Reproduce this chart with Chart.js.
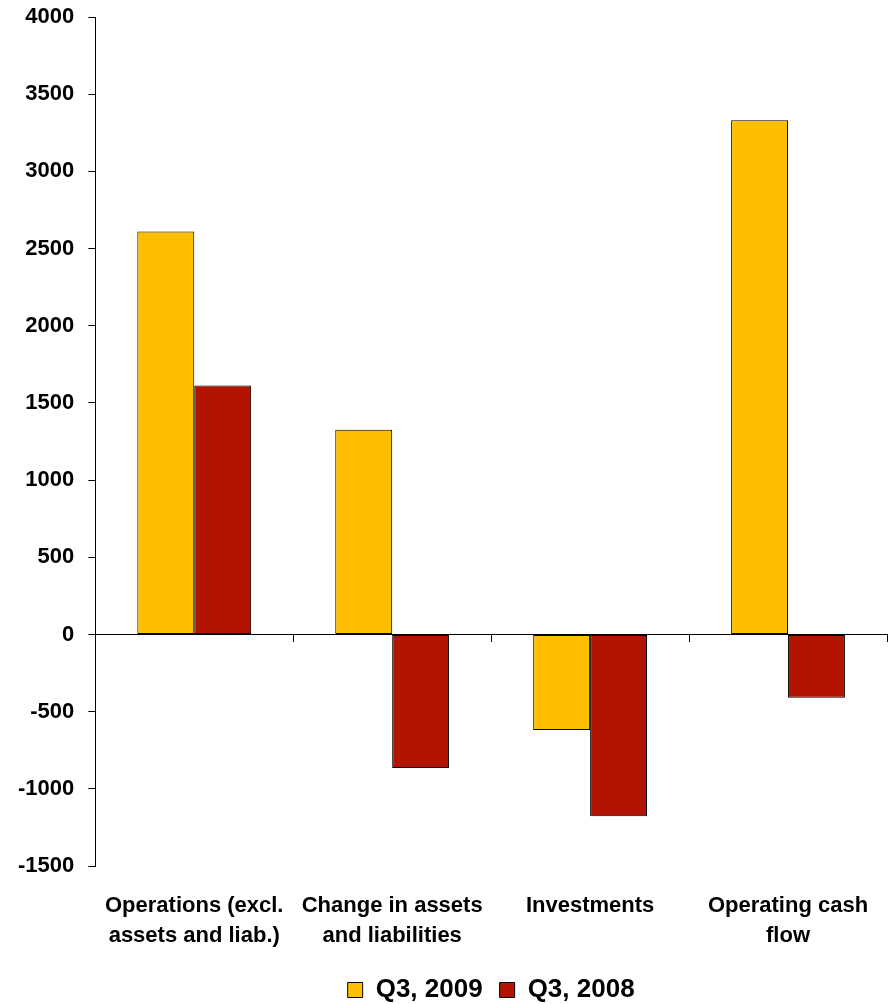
<!DOCTYPE html>
<html>
<head>
<meta charset="utf-8">
<script src="https://cdn.jsdelivr.net/npm/chart.js@4/dist/chart.umd.min.js"></script>
<style>
  html, body { margin: 0; padding: 0; background: #fff; }
  #wrap { width: 888px; height: 1004px; }
</style>
</head>
<body>
<div id="wrap"><canvas id="chart"></canvas></div>
<script>
// 数据
const categories = [
  ['Operations (excl.', 'assets and liab.)'],
  ['Change in assets', 'and liabilities'],
  'Investments',
  ['Operating cash', 'flow']
];
const seriesNames = ['Q3, 2009', 'Q3, 2008'];
const q3of2009 = [2611, 1327, -618, 3332];
const q3of2008 = [1613, -865, -1176, -410];
const yTicks = { min: -1500, max: 4000, step: 500 };

const FONT = 'Arial, "Liberation Sans", sans-serif';

// 图例居中于绘图区
const legendShift = {
  id: 'legendShift',
  afterLayout(chart) {
    const lg = chart.legend;
    const area = chart.chartArea;
    if (!lg) return;
    const dx = (area.left + area.right) / 2 - (lg.left + lg.right) / 2;
    lg.left += dx;
    lg.right += dx;
  }
};

new Chart(document.getElementById('chart'), {
  type: 'bar',
  data: {
    labels: categories,
    datasets: [
      {
        label: seriesNames[0],
        data: q3of2009,
        backgroundColor: '#FFBF00',
        borderColor: '#000',
        borderWidth: 1,
        borderSkipped: false,
        categoryPercentage: 0.575,
        barPercentage: 1
      },
      {
        label: seriesNames[1],
        data: q3of2008,
        backgroundColor: '#B31400',
        borderColor: '#000',
        borderWidth: 1,
        borderSkipped: false,
        categoryPercentage: 0.575,
        barPercentage: 1
      }
    ]
  },
  options: {
    responsive: true,
    maintainAspectRatio: false,
    animation: false,
    layout: { padding: { left: 4, right: 1, top: 0, bottom: -9 } },
    plugins: {
      tooltip: { enabled: false },
      legend: {
        position: 'bottom',
        labels: {
          color: '#000',
          boxWidth: 15,
          boxHeight: 15,
          padding: 17,
          font: { family: FONT, size: 26, weight: 'bold' }
        }
      }
    },
    scales: {
      x: {
        position: 'bottom',
        offset: true,
        border: { display: false },
        grid: { display: false, drawTicks: false },
        ticks: {
          color: '#000',
          padding: 25,
          maxRotation: 0,
          autoSkip: false,
          font: { family: FONT, size: 22, weight: 'bold', lineHeight: 1.36 }
        },
        afterFit(scale) {
          scale.height -= 16;
          scale.paddingRight = 0;
          scale.paddingLeft = 0;
        }
      },
      x2: {
        type: 'category',
        labels: categories,
        position: { y: 0 },
        offset: true,
        border: { display: true, color: '#000', width: 1 },
        grid: { offset: true, drawOnChartArea: false, drawTicks: true, tickLength: 7, color: '#000' },
        ticks: { display: false },
        afterFit(scale) {
          scale.paddingRight = 0;
          scale.paddingLeft = 0;
        }
      },
      y: {
        min: yTicks.min,
        max: yTicks.max,
        border: { display: true, color: '#000', width: 1 },
        grid: { drawOnChartArea: false, drawTicks: true, tickLength: 7, color: '#000' },
        ticks: {
          stepSize: yTicks.step,
          color: '#000',
          padding: 14,
          font: { family: FONT, size: 22, weight: 'bold' },
          callback: v => String(v)
        },
        afterFit(scale) { scale.paddingTop = 17; }
      }
    }
  },
  plugins: [legendShift]
});
</script>
</body>
</html>
